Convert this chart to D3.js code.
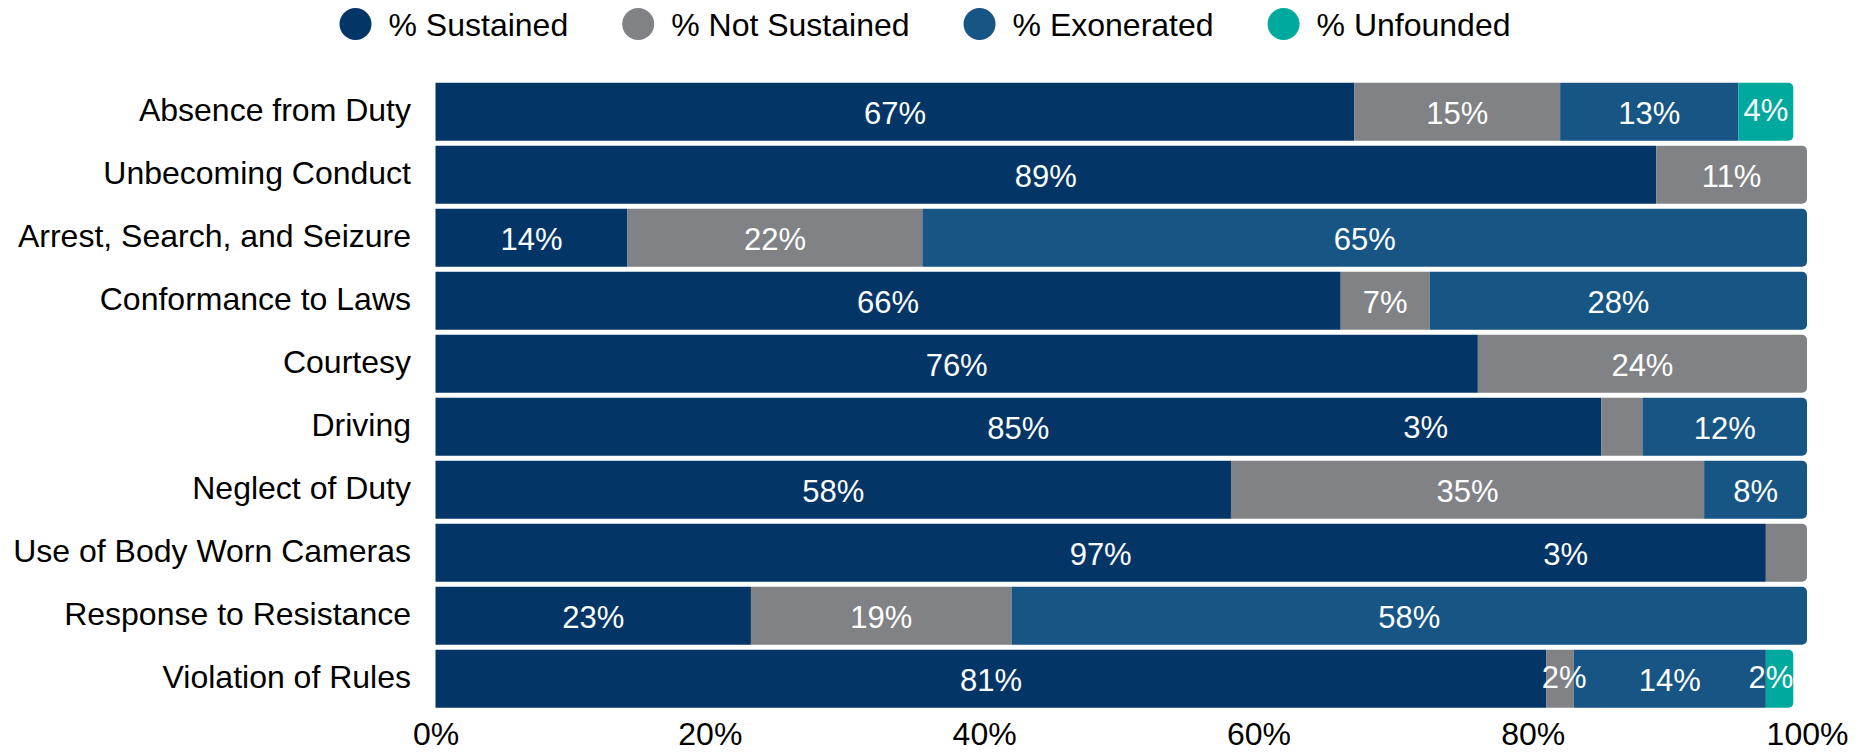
<!DOCTYPE html>
<html>
<head>
<meta charset="utf-8">
<script src="https://cdn.jsdelivr.net/npm/d3@7/dist/d3.min.js"></script>
<style>
  html, body { margin: 0; padding: 0; background: #fff; }
  svg { display: block; font-family: "Liberation Sans", Arial, sans-serif; }
</style>
</head>
<body>
<svg id="chart" width="1868" height="752"></svg>
<script>
// Allegation categories, top to bottom
const categories = [
  "Absence from Duty",
  "Unbecoming Conduct",
  "Arrest, Search, and Seizure",
  "Conformance to Laws",
  "Courtesy",
  "Driving",
  "Neglect of Duty",
  "Use of Body Worn Cameras",
  "Response to Resistance",
  "Violation of Rules"
];

// Share of findings per category (percent)
const sustained    = [67, 89, 14.0, 66.0, 76, 85, 58.0, 97, 23, 81];
const notSustained = [15, 11, 21.5,  6.5, 24,  3, 34.5,  3, 19,  2];
const exonerated   = [13,  0, 64.5, 27.5,  0, 12,  7.5,  0, 58, 14];
const unfounded    = [ 4,  0,  0,    0,    0,  0,  0,    0,  0,  2];

const seriesNames  = ["% Sustained", "% Not Sustained", "% Exonerated", "% Unfounded"];
const seriesColors = ["#033667", "#808285", "#165584", "#00a99d"];
const xTicks = [0, 20, 40, 60, 80, 100];

// Labels of thin slivers that sit elsewhere along their bar (x in percent, lift in px)
const labelTweaks = {
  "Absence from Duty|% Unfounded": { lift: 3 },
  "Driving|% Not Sustained": { at: 72.2, lift: 1 },
  "Use of Body Worn Cameras|% Not Sustained": { at: 82.4 },
  "Violation of Rules|% Not Sustained": { at: 82.3, lift: 3 },
  "Violation of Rules|% Unfounded": { lift: 3 }
};

const LABEL_FONT = 31;
const AXIS_FONT = 32;
const svg = d3.select("#chart");

const x = d3.scaleLinear().domain([0, 100]).range([435.5, 1807]);
const y = d3.scaleBand().domain(categories).range([80.2, 710.2])
  .paddingInner(0.08).paddingOuter(0.04);

const table = categories.map((c, i) => ({
  category: c,
  "% Sustained": sustained[i],
  "% Not Sustained": notSustained[i],
  "% Exonerated": exonerated[i],
  "% Unfounded": unfounded[i]
}));

const stacked = d3.stack().keys(seriesNames)(table);
const color = d3.scaleOrdinal().domain(seriesNames).range(seriesColors);

// last non-empty segment of each row gets rounded right corners
const lastKey = new Map(table.map(d => {
  const keys = seriesNames.filter(k => d[k] > 0);
  return [d.category, keys[keys.length - 1]];
}));

function segPath(x0, x1, y0, h, round) {
  const r = round ? Math.min(5, (x1 - x0) / 2) : 0;
  if (!r) return `M${x0},${y0}H${x1}V${y0 + h}H${x0}Z`;
  return `M${x0},${y0}H${x1 - r}A${r},${r} 0 0 1 ${x1},${y0 + r}` +
         `V${y0 + h - r}A${r},${r} 0 0 1 ${x1 - r},${y0 + h}H${x0}Z`;
}

const bars = svg.append("g");
stacked.forEach(layer => {
  bars.append("g").attr("fill", color(layer.key))
    .selectAll("path")
    .data(layer.filter(d => d[1] - d[0] > 0))
    .join("path")
    .attr("d", d => segPath(x(d[0]), x(d[1]), y(d.data.category), y.bandwidth(),
                            lastKey.get(d.data.category) === layer.key));
});

// value labels
const fmt = v => Math.round(v) + "%";
const labels = svg.append("g")
  .attr("font-size", LABEL_FONT).attr("fill", "#fff").attr("text-anchor", "middle");
stacked.forEach(layer => {
  layer.filter(d => d[1] - d[0] > 0).forEach(d => {
    const cat = d.data.category;
    const tw = labelTweaks[cat + "|" + layer.key] || {};
    const v = d.data[layer.key];
    const cx = tw.at !== undefined ? x(tw.at) : x((d[0] + d[1]) / 2);
    const t = labels.append("text")
      .attr("x", cx)
      .attr("y", y(cat) + y.bandwidth() / 2 + 12.3 - (tw.lift || 0))
      .text(fmt(v));
    // keep a label that overflows the final sliver inside the bar end
    if (tw.at === undefined && lastKey.get(cat) === layer.key) {
      const w = t.node().getComputedTextLength();
      const barEnd = x(d[1]);
      if (cx + w / 2 > barEnd) t.attr("x", barEnd - w / 2);
    }
  });
});

// category axis
svg.append("g")
  .attr("font-size", AXIS_FONT).attr("fill", "#000").attr("text-anchor", "end")
  .selectAll("text").data(categories).join("text")
  .attr("x", 411)
  .attr("y", d => y(d) + y.bandwidth() / 2 + 9)
  .text(d => d);

// value axis
const xAxis = svg.append("g").attr("transform", "translate(0,745)")
  .call(d3.axisBottom(x).tickValues(xTicks).tickSize(0).tickPadding(0)
    .tickFormat(d => d + "%"));
xAxis.select(".domain").remove();
xAxis.selectAll("text")
  .attr("font-size", AXIS_FONT).attr("fill", "#000")
  .attr("font-family", "'Liberation Sans', Arial, sans-serif")
  .attr("dy", 0).attr("y", 0);

// legend, centred across the top
const legend = svg.append("g").attr("font-size", AXIS_FONT);
const items = seriesNames.map(name => {
  const g = legend.append("g");
  g.append("circle").attr("r", 16).attr("cy", 24).attr("fill", color(name));
  const t = g.append("text").attr("x", 33).attr("y", 36).attr("fill", "#000").text(name);
  return { g, w: t.node().getComputedTextLength() };
});
const GAP = 54;
let cursor = 0;
const offsets = items.map(it => {
  const cx = cursor + 16;
  cursor = cx + 33 + it.w + GAP;
  return cx;
});
const total = cursor - GAP;
const start = 925 - total / 2;
items.forEach((it, i) => it.g.attr("transform", `translate(${start + offsets[i]},0)`));
</script>
</body>
</html>
